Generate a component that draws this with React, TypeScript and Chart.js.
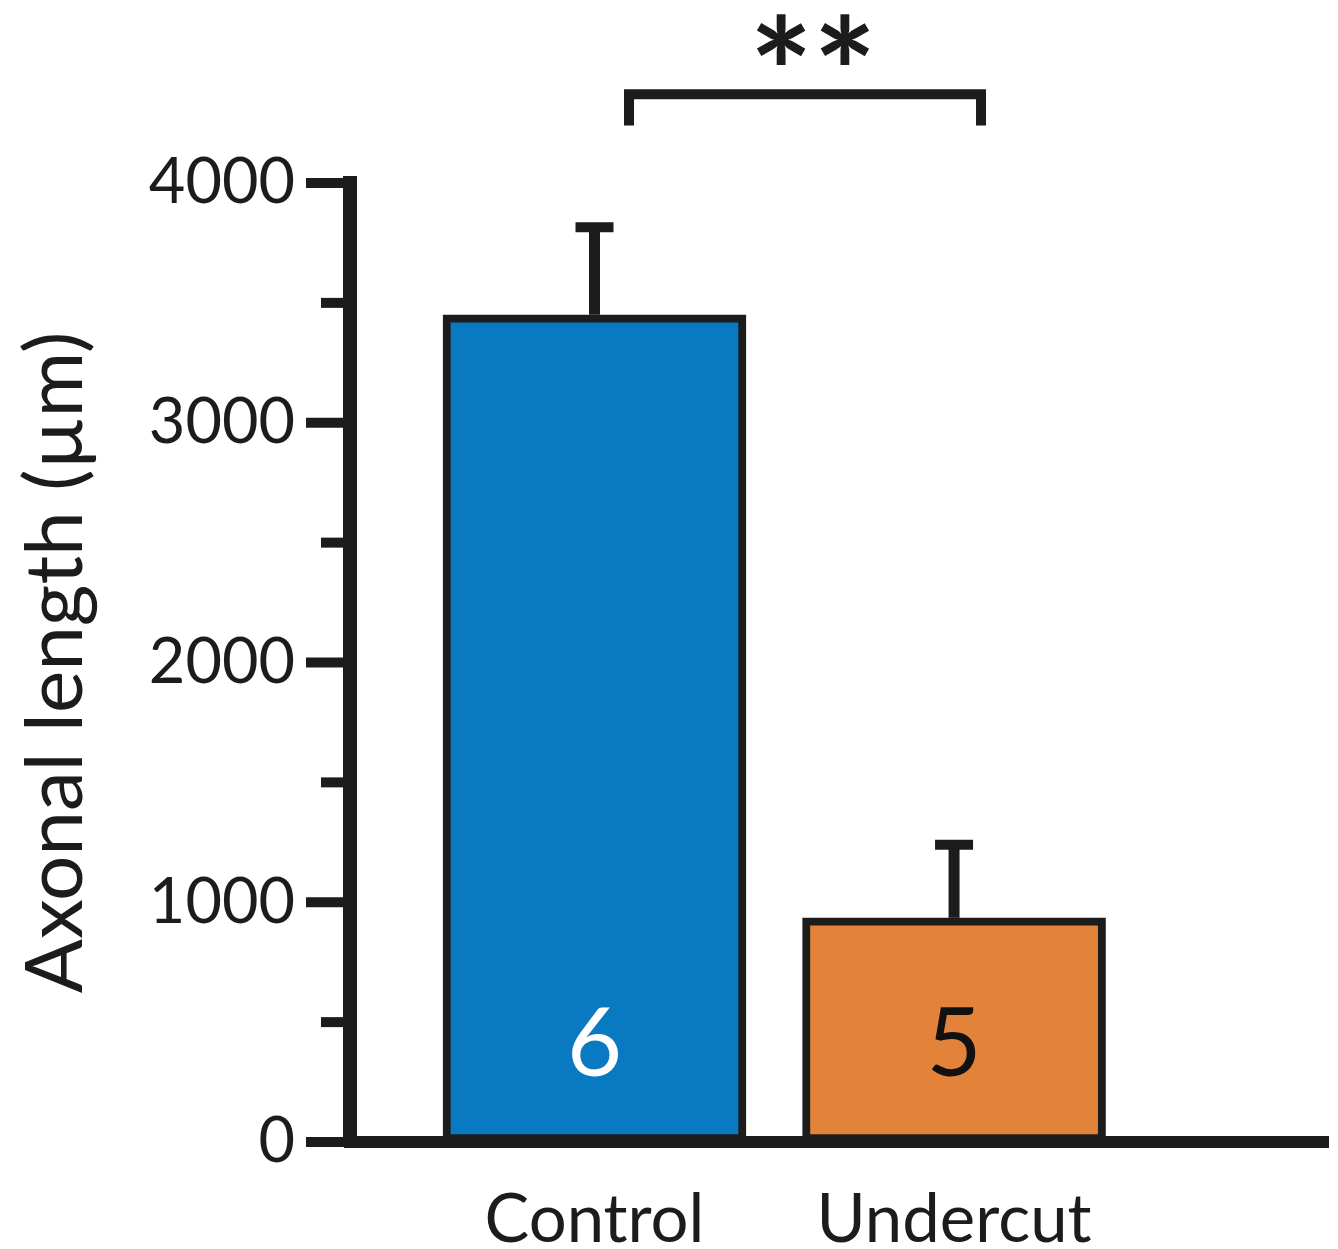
import React, { useEffect, useRef } from "react";
import { Chart, registerables } from "chart.js";

Chart.register(...registerables);

// ---- data ----
const categories = ["Control", "Undercut"];
const means = [3450, 935];
const sems = [365, 305];
const nCounts = ["6", "5"];
const barColors = ["#0979c1", "#e3833a"];
const nLabelColors = ["#ffffff", "#111111"];
const yMajorTicks = [0, 1000, 2000, 3000, 4000];
const yMinorTicks = [500, 1500, 2500, 3500];
const yTitle = "Axonal length (\u00b5m)";
const sigLabel = "**";
const sigFrom = 1.096;
const sigTo = 2.075;
const sigY = 4370;
const sigLegBottom = 4240;
const sigTextY = 4597;

const INK = "#1c1c1c";

const overlayPlugin = {
  id: "overlay",
  afterDraw(chart: any) {
    const { ctx, chartArea } = chart;
    const xs = chart.scales.x;
    const ys = chart.scales.y;
    ctx.save();
    ctx.strokeStyle = INK;
    ctx.lineCap = "butt";
    // y tick marks
    ctx.lineWidth = 10;
    yMajorTicks.forEach((v) => {
      const y = ys.getPixelForValue(v);
      ctx.beginPath();
      ctx.moveTo(chartArea.left - 44, y);
      ctx.lineTo(chartArea.left, y);
      ctx.stroke();
    });
    yMinorTicks.forEach((v) => {
      const y = ys.getPixelForValue(v);
      ctx.beginPath();
      ctx.moveTo(chartArea.left - 29, y);
      ctx.lineTo(chartArea.left, y);
      ctx.stroke();
    });

    // error bars
    const meta = chart.getDatasetMeta(0);
    meta.data.forEach((el: any, i: number) => {
      const x = el.x;
      const yTop = ys.getPixelForValue(means[i]);
      const yErr = ys.getPixelForValue(means[i] + sems[i]);
      ctx.lineWidth = 11;
      ctx.beginPath();
      ctx.moveTo(x, yTop);
      ctx.lineTo(x, yErr);
      ctx.stroke();
      ctx.lineWidth = 10;
      ctx.beginPath();
      ctx.moveTo(x - 19, yErr);
      ctx.lineTo(x + 19, yErr);
      ctx.stroke();

      // n labels
      ctx.font = "95px Lato";
      ctx.textAlign = "center";
      ctx.textBaseline = "alphabetic";
      const m = ctx.measureText(nCounts[i]);
      const cy = chartArea.bottom - 100;
      ctx.fillStyle = nLabelColors[i];
      ctx.fillText(
        nCounts[i],
        x,
        cy + (m.actualBoundingBoxAscent - m.actualBoundingBoxDescent) / 2
      );
    });

    // significance bracket
    const x1 = xs.getPixelForValue(sigFrom);
    const x2 = xs.getPixelForValue(sigTo);
    const yb = ys.getPixelForValue(sigY);
    const yl = ys.getPixelForValue(sigLegBottom);
    ctx.lineWidth = 10;
    ctx.lineJoin = "miter";
    ctx.beginPath();
    ctx.moveTo(x1, yl);
    ctx.lineTo(x1, yb);
    ctx.lineTo(x2, yb);
    ctx.lineTo(x2, yl);
    ctx.stroke();

    ctx.font = "bold 150px Lato";
    ctx.textAlign = "center";
    ctx.textBaseline = "alphabetic";
    ctx.fillStyle = INK;
    const sm = ctx.measureText(sigLabel);
    const ty = ys.getPixelForValue(sigTextY);
    ctx.fillText(
      sigLabel,
      (x1 + x2) / 2 + 8,
      ty + (sm.actualBoundingBoxAscent - sm.actualBoundingBoxDescent) / 2
    );
    ctx.restore();
  },
};

export default function App() {
  const ref = useRef<HTMLCanvasElement | null>(null);
  useEffect(() => {
    if (!ref.current) return;
    const chart = new Chart(ref.current, {
      type: "bar",
      data: {
        datasets: [
          {
            data: categories.map((_, i) => ({ x: i + 1, y: means[i] })),
            backgroundColor: barColors,
            borderColor: INK,
            borderWidth: 8,
            borderSkipped: false,
            barThickness: 303,
          } as any,
        ],
      },
      options: {
        responsive: false,
        animation: false,
        events: [],
        layout: { padding: { left: 0, right: 10, top: 183, bottom: 0 } },
        plugins: {
          legend: { display: false },
          tooltip: { enabled: false },
        },
        scales: {
          x: {
            type: "linear",
            min: 0.32,
            max: 3.04,
            offset: false,
            bounds: "data",
            grid: { display: false, offset: false },
            border: { display: true, color: INK, width: 12 },
            afterBuildTicks: (scale: any) => {
              scale.ticks = categories.map((_, i) => ({ value: i + 1 }));
            },
            afterFit: (scale: any) => {
              scale.height = 1249 - 1142;
            },
            ticks: {
              autoSkip: false,
              maxRotation: 0,
              padding: 30,
              color: INK,
              font: { family: "Lato", size: 67 },
              callback: (v: any) => categories[Number(v) - 1] ?? "",
            },
          },
          y: {
            type: "linear",
            min: 0,
            max: 4000,
            grid: { display: false },
            border: { display: true, color: INK, width: 14 },
            afterBuildTicks: (scale: any) => {
              scale.ticks = yMajorTicks.map((v) => ({ value: v }));
            },
            afterFit: (scale: any) => {
              scale.width = 350;
            },
            ticks: {
              padding: 47,
              color: INK,
              font: { family: "Lato", size: 63 },
              callback: (v: any) => String(v),
            },
            title: {
              display: true,
              text: yTitle,
              color: INK,
              font: { family: "Lato", size: 80 },
              padding: { top: 8, bottom: 0 },
            },
          },
        },
      } as any,
      plugins: [overlayPlugin],
    });
    return () => chart.destroy();
  }, []);
  return (
    <div style={{ position: "absolute", left: 0, top: 0, width: 1338, height: 1249, background: "#fff" }}>
      <canvas ref={ref} width={1338} height={1249} />
    </div>
  );
}
